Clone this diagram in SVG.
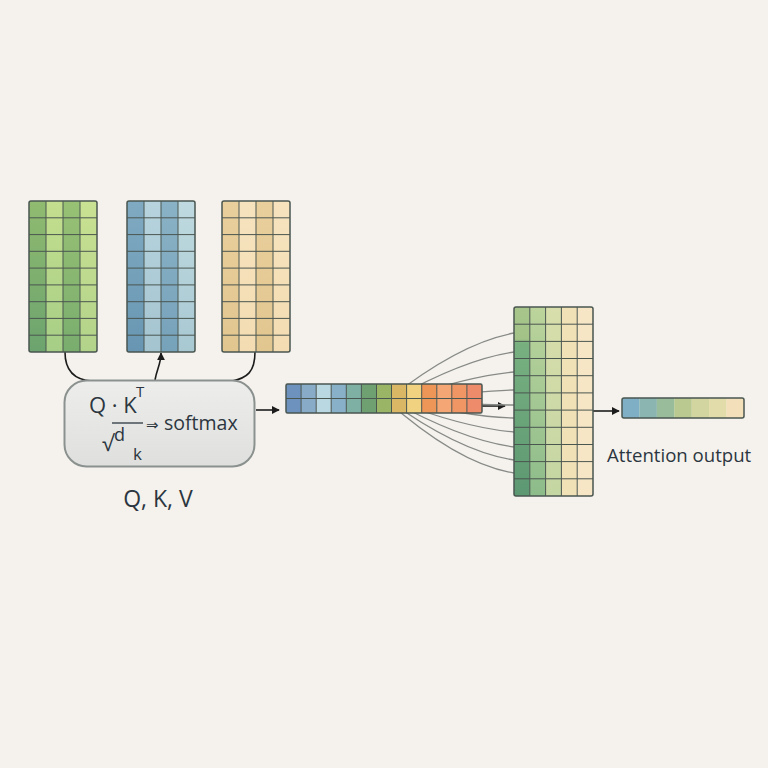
<svg xmlns="http://www.w3.org/2000/svg" width="768" height="768" viewBox="0 0 768 768">
<defs>
<style>
.grid{fill:none;stroke:#4a5650;stroke-width:1}
.frame{fill:none;stroke:#4a5650;stroke-width:1.5}
.fan{fill:none;stroke:#878a87;stroke-width:1.3}
.conn{fill:none;stroke:#1c1c1c;stroke-width:1.6}
.txt{font-family:"Open Sans","Noto Sans","DejaVu Sans",sans-serif;fill:#2c3640}
</style>
<marker id="ah" viewBox="0 0 10 10" refX="9" refY="5" markerWidth="8" markerHeight="8" markerUnits="userSpaceOnUse" orient="auto">
<path d="M0,0 L10,5 L0,10 Z" fill="#1c1c1c"/>
</marker>
<linearGradient id="g1" x1="0" y1="0" x2="0" y2="1"><stop offset="0" stop-color="#90bb70"/><stop offset="1" stop-color="#6ca36e"/></linearGradient>
<linearGradient id="g2" x1="0" y1="0" x2="0" y2="1"><stop offset="0" stop-color="#c4df8e"/><stop offset="1" stop-color="#a6ce86"/></linearGradient>
<linearGradient id="g3" x1="0" y1="0" x2="0" y2="1"><stop offset="0" stop-color="#98c174"/><stop offset="1" stop-color="#79ad6e"/></linearGradient>
<linearGradient id="g4" x1="0" y1="0" x2="0" y2="1"><stop offset="0" stop-color="#c9e192"/><stop offset="1" stop-color="#b2d38a"/></linearGradient>
<linearGradient id="b1" x1="0" y1="0" x2="0" y2="1"><stop offset="0" stop-color="#80aac2"/><stop offset="1" stop-color="#6896b2"/></linearGradient>
<linearGradient id="b2" x1="0" y1="0" x2="0" y2="1"><stop offset="0" stop-color="#b7d4de"/><stop offset="1" stop-color="#a4c4d0"/></linearGradient>
<linearGradient id="b3" x1="0" y1="0" x2="0" y2="1"><stop offset="0" stop-color="#8ab2c6"/><stop offset="1" stop-color="#76a2ba"/></linearGradient>
<linearGradient id="b4" x1="0" y1="0" x2="0" y2="1"><stop offset="0" stop-color="#bfdae0"/><stop offset="1" stop-color="#a8c8d2"/></linearGradient>
<linearGradient id="t1" x1="0" y1="0" x2="0" y2="1"><stop offset="0" stop-color="#e9cf9c"/><stop offset="1" stop-color="#e2c690"/></linearGradient>
<linearGradient id="t2" x1="0" y1="0" x2="0" y2="1"><stop offset="0" stop-color="#f6e3be"/><stop offset="1" stop-color="#f3dcb2"/></linearGradient>
<linearGradient id="m1" x1="0" y1="0" x2="0" y2="1"><stop offset="0" stop-color="#a8c68c"/><stop offset="0.17" stop-color="#a2c288"/><stop offset="0.19" stop-color="#78b080"/><stop offset="1" stop-color="#5c9872"/></linearGradient>
<linearGradient id="m2" x1="0" y1="0" x2="0" y2="1"><stop offset="0" stop-color="#bcd49c"/><stop offset="1" stop-color="#8cbc8a"/></linearGradient>
<linearGradient id="m3" x1="0" y1="0" x2="0" y2="1"><stop offset="0" stop-color="#d8deac"/><stop offset="1" stop-color="#c4d6a2"/></linearGradient>
<linearGradient id="box" x1="0" y1="0" x2="0" y2="1"><stop offset="0" stop-color="#ededeb"/><stop offset="1" stop-color="#dfe0dd"/></linearGradient>
</defs>
<rect width="768" height="768" fill="#f5f2ed"/>

<g id="connectors">
<path class="conn" d="M65 352 C65 372 75 380 92 381"/>
<path class="conn" d="M255 352 C255 372 247 378 232 381"/>
<path class="conn" marker-end="url(#ah)" d="M155 380 C157 368 161 364 161 353"/>
<path class="conn" marker-end="url(#ah)" d="M256 410 L279 410"/>
<path class="conn" marker-end="url(#ah)" d="M482 406 L505 406"/>
<path class="conn" marker-end="url(#ah)" d="M593 411 L619 411"/>
<g id="fan">
<path class="fan" d="M390 398 Q460 343 514 333"/>
<path class="fan" d="M395 398 Q465 359 514 352"/>
<path class="fan" d="M405 398 Q470 376 514 372"/>
<path class="fan" d="M420 398 Q480 391 514 390"/>
<path class="fan" d="M430 402 Q480 405 514 405"/>
<path class="fan" d="M400 400 Q470 417 514 418"/>
<path class="fan" d="M392 400 Q465 428 514 432"/>
<path class="fan" d="M390 400 Q462 440 514 447"/>
<path class="fan" d="M388 400 Q460 452 514 460"/>
<path class="fan" d="M386 400 Q458 464 514 473"/>
</g>
</g>

<g id="Q">
<rect x="29" y="201" width="17" height="151" fill="url(#g1)"/>
<rect x="46" y="201" width="17" height="151" fill="url(#g2)"/>
<rect x="63" y="201" width="17" height="151" fill="url(#g3)"/>
<rect x="80" y="201" width="17" height="151" fill="url(#g4)"/>
<path class="grid" d="M46 201V352M63 201V352M80 201V352M29 217.8h68M29 234.6h68M29 251.3h68M29 268.1h68M29 284.9h68M29 301.7h68M29 318.4h68M29 335.2h68"/>
<rect class="frame" x="29" y="201" width="68" height="151" rx="2"/>
</g>

<g id="K">
<rect x="127" y="201" width="17" height="151" fill="url(#b1)"/>
<rect x="144" y="201" width="17" height="151" fill="url(#b2)"/>
<rect x="161" y="201" width="17" height="151" fill="url(#b3)"/>
<rect x="178" y="201" width="17" height="151" fill="url(#b4)"/>
<path class="grid" d="M144 201V352M161 201V352M178 201V352M127 217.8h68M127 234.6h68M127 251.3h68M127 268.1h68M127 284.9h68M127 301.7h68M127 318.4h68M127 335.2h68"/>
<rect class="frame" x="127" y="201" width="68" height="151" rx="2"/>
</g>

<g id="V">
<rect x="222" y="201" width="17" height="151" fill="url(#t1)"/>
<rect x="239" y="201" width="17" height="151" fill="url(#t2)"/>
<rect x="256" y="201" width="17" height="151" fill="url(#t1)"/>
<rect x="273" y="201" width="17" height="151" fill="url(#t2)"/>
<path class="grid" d="M239 201V352M256 201V352M273 201V352M222 217.8h68M222 234.6h68M222 251.3h68M222 268.1h68M222 284.9h68M222 301.7h68M222 318.4h68M222 335.2h68"/>
<rect class="frame" x="222" y="201" width="68" height="151" rx="2"/>
</g>

<g id="formula">
<rect x="64.5" y="380.5" width="190" height="86" rx="22" fill="url(#box)" stroke="#8a918f" stroke-width="2"/>
<text class="txt" x="89" y="413" font-size="22">Q · K</text>
<text class="txt" x="136" y="397" font-size="15">T</text>
<text class="txt" x="102" y="451" font-size="22">√</text>
<line x1="112" y1="423" x2="143" y2="423" stroke="#2c3640" stroke-width="1.3"/>
<text class="txt" x="114" y="441" font-size="18">d</text>
<text class="txt" x="133" y="460" font-size="17">k</text>
<text class="txt" x="146" y="430" font-size="15">⇒</text>
<text class="txt" x="164" y="430" font-size="19.5">softmax</text>
</g>

<g id="qkv-label">
<text class="txt" x="158" y="507" font-size="23" text-anchor="middle">Q, K, V</text>
</g>

<g id="scores">
<rect x="286" y="384" width="15.1" height="29" fill="#6c92bd"/>
<rect x="301.1" y="384" width="15.1" height="29" fill="#88abc8"/>
<rect x="316.2" y="384" width="15.1" height="29" fill="#bad8e1"/>
<rect x="331.2" y="384" width="15.1" height="29" fill="#88b0c8"/>
<rect x="346.3" y="384" width="15.1" height="29" fill="#7fb0a4"/>
<rect x="361.4" y="384" width="15.1" height="29" fill="#6ea071"/>
<rect x="376.5" y="384" width="15.1" height="29" fill="#9bb566"/>
<rect x="391.5" y="384" width="15.1" height="29" fill="#d9b764"/>
<rect x="406.6" y="384" width="15.1" height="29" fill="#f0d280"/>
<rect x="421.7" y="384" width="15.1" height="29" fill="#ee9657"/>
<rect x="436.8" y="384" width="15.1" height="29" fill="#f4a774"/>
<rect x="451.8" y="384" width="15.1" height="29" fill="#ef9664"/>
<rect x="466.9" y="384" width="15.1" height="29" fill="#ee8b6b"/>
<path class="grid" d="M286 398.5h196M301.1 384v29M316.2 384v29M331.2 384v29M346.3 384v29M361.4 384v29M376.5 384v29M391.5 384v29M406.6 384v29M421.7 384v29M436.8 384v29M451.8 384v29M466.9 384v29"/>
<rect class="frame" x="286" y="384" width="196" height="29" rx="1.5"/>
</g>

<g id="weighted-V">
<rect x="514" y="307" width="15.8" height="189" fill="url(#m1)"/>
<rect x="529.8" y="307" width="15.8" height="189" fill="url(#m2)"/>
<rect x="545.6" y="307" width="15.8" height="189" fill="url(#m3)"/>
<rect x="561.4" y="307" width="15.8" height="189" fill="#f1e1b6"/>
<rect x="577.2" y="307" width="15.8" height="189" fill="#f7e6c6"/>
<path class="grid" d="M529.8 307V496M545.6 307V496M561.4 307V496M577.2 307V496M514 324.2h79M514 341.4h79M514 358.5h79M514 375.7h79M514 392.9h79M514 410.1h79M514 427.3h79M514 444.5h79M514 461.6h79M514 478.8h79"/>
<rect class="frame" x="514" y="307" width="79" height="189" rx="2"/>
</g>

<g id="output">
<rect x="622" y="398" width="17.5" height="20" fill="#7fafc4"/>
<rect x="639.4" y="398" width="17.5" height="20" fill="#8bb5b0"/>
<rect x="656.9" y="398" width="17.5" height="20" fill="#99bd9b"/>
<rect x="674.3" y="398" width="17.5" height="20" fill="#b9c98f"/>
<rect x="691.7" y="398" width="17.5" height="20" fill="#d3d5a1"/>
<rect x="709.1" y="398" width="17.5" height="20" fill="#e1dca9"/>
<rect x="726.6" y="398" width="17.4" height="20" fill="#f3e0ba"/>
<rect class="frame" x="622" y="398" width="122" height="20" rx="2"/>
<text class="txt" x="607" y="462" font-size="18.6">Attention output</text>
</g>
</svg>
